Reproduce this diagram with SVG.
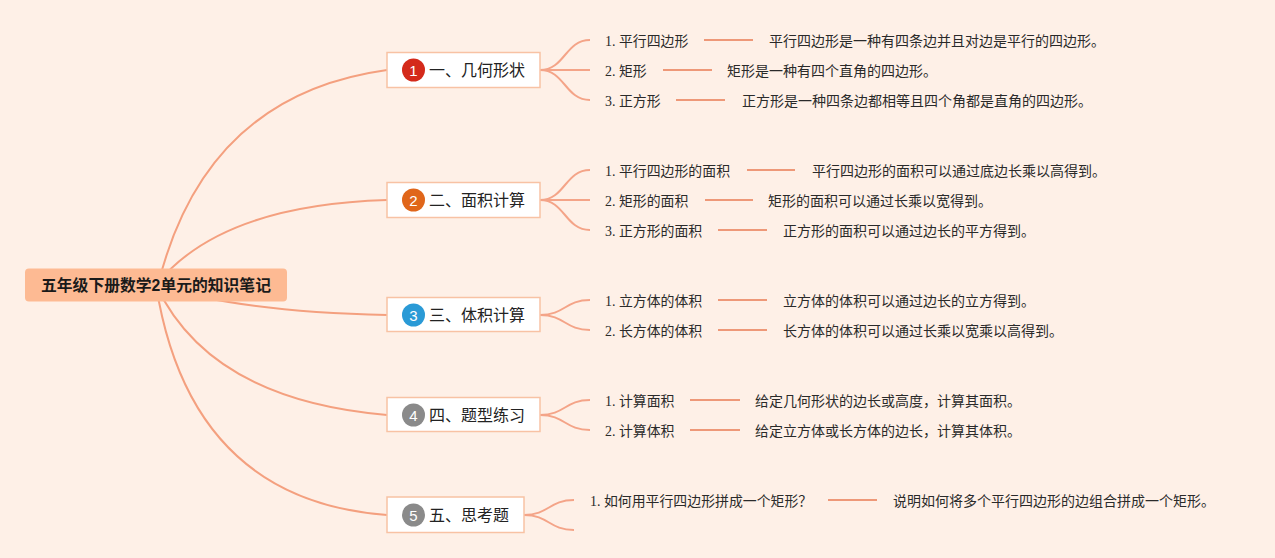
<svg xmlns="http://www.w3.org/2000/svg" width="1275" height="558" viewBox="0 0 1275 558">
<style>
.bg{fill:#FEF0E7}
.curve{fill:none;stroke:#F4A07F;stroke-width:2}
.fan{fill:none;stroke:#F4A488;stroke-width:2}
.link{stroke:#EE9878;stroke-width:2}
.root-box{fill:#FDBA93}
.root-t{font-family:"Liberation Sans","Noto Sans CJK SC",sans-serif;font-weight:bold;font-size:15.8px;fill:#1a1a1a;text-anchor:middle}
.box{fill:#FFFFFF;stroke:#F8C2A4;stroke-width:1.5}
.title{font-family:"Noto Sans CJK SC",sans-serif;font-size:16px;fill:#222}
.num{font-family:"Liberation Sans",sans-serif;font-size:15px;fill:#FFFFFF;text-anchor:middle}
.lbl{font-family:"Liberation Serif","Noto Sans CJK SC",serif;font-size:13.9px;fill:#2a2a2a}
.desc{font-family:"Noto Sans CJK SC",sans-serif;font-size:14px;fill:#2a2a2a}
</style>
<rect class="bg" x="0" y="0" width="1275" height="558"/>
<g id="connectors">
<path class="curve" d="M158,285 Q205,95 387,70"/>
<path class="curve" d="M156,285 Q220,205 387,200"/>
<path class="curve" d="M156,285 Q240,312 387,315"/>
<path class="curve" d="M156,285 Q210,400 387,415"/>
<path class="curve" d="M156,285 Q190,500 387,515"/>
<path class="fan" d="M540,70 C565,70 565,40 590,40"/>
<path class="fan" d="M540,70 L590,70"/>
<path class="fan" d="M540,70 C565,70 565,100 590,100"/>
<path class="fan" d="M540,200 C565,200 565,170 590,170"/>
<path class="fan" d="M540,200 L590,200"/>
<path class="fan" d="M540,200 C565,200 565,230 590,230"/>
<path class="fan" d="M540,315 C565,315 565,300 590,300"/>
<path class="fan" d="M540,315 C565,315 565,330 590,330"/>
<path class="fan" d="M540,415 C565,415 565,400 590,400"/>
<path class="fan" d="M540,415 C565,415 565,430 590,430"/>
<path class="fan" d="M524,515 C549,515 549,500 574,500"/>
<path class="fan" d="M524,515 C549,515 549,530 574,530"/>
<line class="link" x1="704" y1="40" x2="753" y2="40"/>
<line class="link" x1="663" y1="70" x2="712" y2="70"/>
<line class="link" x1="676" y1="100" x2="725" y2="100"/>
<line class="link" x1="747" y1="170" x2="795" y2="170"/>
<line class="link" x1="705" y1="200" x2="753" y2="200"/>
<line class="link" x1="718" y1="230" x2="767" y2="230"/>
<line class="link" x1="718" y1="300" x2="767" y2="300"/>
<line class="link" x1="718" y1="330" x2="767" y2="330"/>
<line class="link" x1="690" y1="400" x2="740" y2="400"/>
<line class="link" x1="690" y1="430" x2="740" y2="430"/>
<line class="link" x1="828" y1="500" x2="877" y2="500"/>
</g>
<g id="root">
<rect class="root-box" x="25" y="268.5" width="262" height="33" rx="4"/>
<text class="root-t" x="156" y="290.5">五年级下册数学2单元的知识笔记</text>
</g>
<g id="node1">
<rect class="box" x="387" y="52.5" width="153" height="35"/>
<circle cx="413.5" cy="70" r="11.5" fill="#D42A1A"/>
<text class="num" x="413.5" y="75.5">1</text>
<text class="title" x="429" y="75.5">一、几何形状</text>
</g>
<g id="node2">
<rect class="box" x="387" y="182.5" width="153" height="35"/>
<circle cx="413.5" cy="200" r="11.5" fill="#E0661A"/>
<text class="num" x="413.5" y="205.5">2</text>
<text class="title" x="429" y="205.5">二、面积计算</text>
</g>
<g id="node3">
<rect class="box" x="387" y="297.5" width="153" height="34"/>
<circle cx="413.5" cy="315" r="11.5" fill="#2A9AD6"/>
<text class="num" x="413.5" y="320.5">3</text>
<text class="title" x="429" y="320.5">三、体积计算</text>
</g>
<g id="node4">
<rect class="box" x="387" y="397.5" width="153" height="34"/>
<circle cx="413.5" cy="415" r="11.5" fill="#8A8A8A"/>
<text class="num" x="413.5" y="420.5">4</text>
<text class="title" x="429" y="420.5">四、题型练习</text>
</g>
<g id="node5">
<rect class="box" x="387" y="497" width="137" height="35.5"/>
<circle cx="413.5" cy="515" r="11.5" fill="#8A8A8A"/>
<text class="num" x="413.5" y="520.5">5</text>
<text class="title" x="429" y="520.5">五、思考题</text>
</g>
<g id="leaf1-1"><text class="lbl" x="605" y="46">1. 平行四边形</text><text class="desc" x="769" y="46">平行四边形是一种有四条边并且对边是平行的四边形。</text></g>
<g id="leaf1-2"><text class="lbl" x="605" y="76">2. 矩形</text><text class="desc" x="727" y="76">矩形是一种有四个直角的四边形。</text></g>
<g id="leaf1-3"><text class="lbl" x="605" y="106">3. 正方形</text><text class="desc" x="742" y="106">正方形是一种四条边都相等且四个角都是直角的四边形。</text></g>
<g id="leaf2-1"><text class="lbl" x="605" y="176">1. 平行四边形的面积</text><text class="desc" x="812" y="176">平行四边形的面积可以通过底边长乘以高得到。</text></g>
<g id="leaf2-2"><text class="lbl" x="605" y="206">2. 矩形的面积</text><text class="desc" x="768" y="206">矩形的面积可以通过长乘以宽得到。</text></g>
<g id="leaf2-3"><text class="lbl" x="605" y="236">3. 正方形的面积</text><text class="desc" x="783" y="236">正方形的面积可以通过边长的平方得到。</text></g>
<g id="leaf3-1"><text class="lbl" x="605" y="306">1. 立方体的体积</text><text class="desc" x="783" y="306">立方体的体积可以通过边长的立方得到。</text></g>
<g id="leaf3-2"><text class="lbl" x="605" y="336">2. 长方体的体积</text><text class="desc" x="783" y="336">长方体的体积可以通过长乘以宽乘以高得到。</text></g>
<g id="leaf4-1"><text class="lbl" x="605" y="406">1. 计算面积</text><text class="desc" x="755" y="406">给定几何形状的边长或高度，计算其面积。</text></g>
<g id="leaf4-2"><text class="lbl" x="605" y="436">2. 计算体积</text><text class="desc" x="755" y="436">给定立方体或长方体的边长，计算其体积。</text></g>
<g id="leaf5-1"><text class="lbl" x="590" y="506">1. 如何用平行四边形拼成一个矩形？</text><text class="desc" x="893" y="506">说明如何将多个平行四边形的边组合拼成一个矩形。</text></g>
</svg>
